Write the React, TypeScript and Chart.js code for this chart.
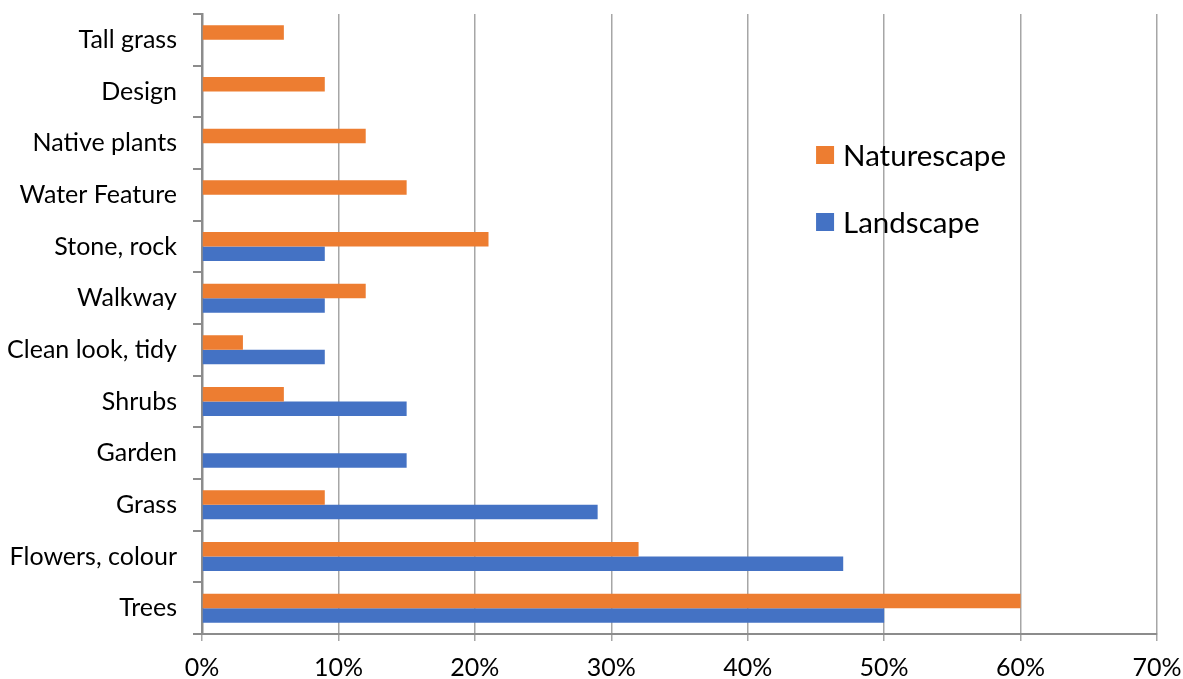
import React, { useEffect, useRef } from "react";
import { Chart, registerables } from "chart.js";

Chart.register(...registerables);

// Features, listed top to bottom
const categories = [
  "Tall grass",
  "Design",
  "Native plants",
  "Water Feature",
  "Stone, rock",
  "Walkway",
  "Clean look, tidy",
  "Shrubs",
  "Garden",
  "Grass",
  "Flowers, colour",
  "Trees",
];

// Share of mentions (%)
const naturescape = [6, 9, 12, 15, 21, 12, 3, 6, 0, 9, 32, 60];
const landscape = [0, 0, 0, 0, 9, 9, 9, 15, 15, 29, 47, 50];

const xTicks = [0, 10, 20, 30, 40, 50, 60, 70];

const seriesNames = ["Naturescape", "Landscape"];
const seriesColors = ["#ED7D31", "#4472C4"];

const FONT = "Lato, 'Open Sans', sans-serif";

// Legend drawn inside the plot area on the right-hand side
const insideLegend = {
  id: "insideLegend",
  afterDraw(chart: any) {
    const { ctx, chartArea } = chart;
    const w = chartArea.right - chartArea.left;
    const x = chartArea.left + w * 0.643;
    const rows = [chartArea.top + 141, chartArea.top + 208];
    ctx.save();
    ctx.font = `29.5px ${FONT}`;
    ctx.textBaseline = "middle";
    ctx.textAlign = "left";
    seriesNames.forEach((name, i) => {
      const y = rows[i];
      ctx.fillStyle = seriesColors[i];
      ctx.fillRect(x, y - 9, 18, 18);
      ctx.fillStyle = "#000";
      ctx.fillText(name, x + 27, y + 1);
    });
    ctx.restore();
  },
};

export default function App() {
  const canvasRef = useRef<HTMLCanvasElement | null>(null);

  useEffect(() => {
    document.body.style.margin = "0";
    const canvas = canvasRef.current;
    if (!canvas) return;
    const chart = new Chart(canvas, {
      type: "bar",
      data: {
        labels: categories,
        datasets: [
          {
            label: seriesNames[0],
            data: naturescape,
            backgroundColor: seriesColors[0],
            barPercentage: 1,
            categoryPercentage: 0.56,
          },
          {
            label: seriesNames[1],
            data: landscape,
            backgroundColor: seriesColors[1],
            barPercentage: 1,
            categoryPercentage: 0.56,
          },
        ],
      },
      options: {
        indexAxis: "y",
        animation: false,
        responsive: false,
        devicePixelRatio: 1,
        layout: { padding: { top: 14, right: 26, left: 0, bottom: 0 } },
        plugins: {
          legend: { display: false },
          tooltip: { enabled: false },
        },
        scales: {
          x: {
            type: "linear",
            min: xTicks[0],
            max: xTicks[xTicks.length - 1],
            afterBuildTicks(scale: any) {
              scale.ticks = xTicks.map((v) => ({ value: v }));
            },
            afterFit(scale: any) {
              scale.height = 45;
              scale.paddingLeft = 0;
              scale.paddingRight = 0;
            },
            ticks: {
              callback: (v: any) => `${v}%`,
              color: "#000",
              font: { family: FONT, size: 25 },
              padding: 12,
              maxRotation: 0,
            },
            grid: {
              color: "#a6a6a6",
              lineWidth: 1.5,
              drawTicks: true,
              tickLength: 7,
            },
            border: { display: true, color: "#8c8c8c", width: 2 },
          },
          y: {
            type: "category",
            afterFit(scale: any) {
              scale.width = 202;
              scale.paddingTop = 0;
              scale.paddingBottom = 0;
            },
            ticks: {
              color: "#000",
              font: { family: FONT, size: 25 },
              padding: 16,
              autoSkip: false,
            },
            grid: {
              offset: true,
              drawOnChartArea: false,
              drawTicks: true,
              tickLength: 9,
              color: "#8c8c8c",
              lineWidth: 2,
            },
            border: { display: true, color: "#8c8c8c", width: 2.5 },
          },
        },
      },
      plugins: [insideLegend],
    });
    return () => chart.destroy();
  }, []);

  return (
    <div style={{ position: "relative", width: 1183, height: 679, background: "#fff" }}>
      <canvas ref={canvasRef} width={1183} height={679} />
    </div>
  );
}
